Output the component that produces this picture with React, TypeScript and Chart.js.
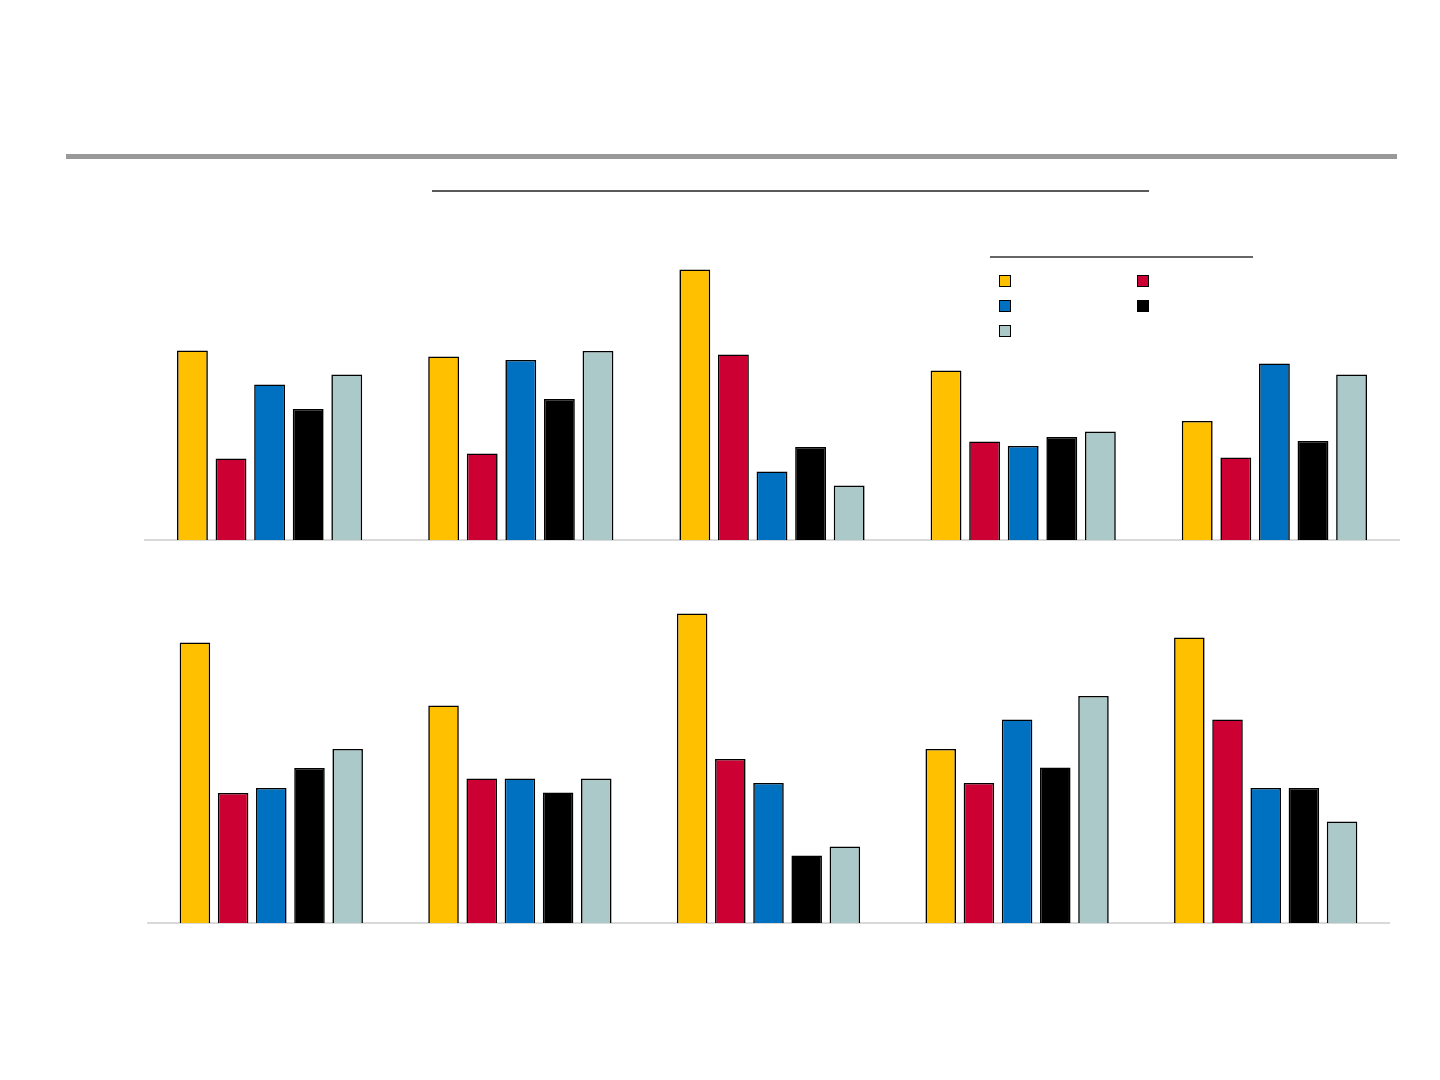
import { Chart, registerables } from 'chart.js';
import { useRef, useEffect } from 'react';

Chart.register(...registerables);

// no visible text in the reference: categories and series names are blank
const categories = ['1', '2', '3', '4', '5'];
const seriesNames = ['', '', '', '', ''];
const seriesColors = ['#FFC000', '#CC0033', '#0070C0', '#000000', '#ABC9C8'];

// upper panel
const topYellow = [37.9, 36.7, 54.1, 33.9, 23.8];
const topRed = [16.3, 17.3, 37.1, 19.7, 16.5];
const topBlue = [31.1, 36.0, 13.7, 18.8, 35.3];
const topBlack = [26.2, 28.2, 18.6, 20.6, 19.8];
const topTeal = [33.1, 37.8, 10.9, 21.7, 33.1];

// lower panel
const bottomYellow = [56.1, 43.5, 61.9, 34.8, 57.1];
const bottomRed = [26.0, 28.9, 32.8, 28.0, 40.7];
const bottomBlue = [27.0, 28.9, 28.0, 40.7, 27.0];
const bottomBlack = [31.0, 26.1, 13.5, 31.1, 27.0];
const bottomTeal = [34.8, 28.9, 15.3, 45.4, 20.3];

interface BarPanelProps {
	series: number[][];
	yMax: number;
	left: number;
	top: number;
	width: number;
	height: number;
}

const BarPanel = ({ series, yMax, left, top, width, height }: BarPanelProps) => {
	const chartRef = useRef<HTMLCanvasElement>(null);

	useEffect(() => {
		const ctx = chartRef.current.getContext('2d');

		const chartInstance = new Chart(ctx, {
			type: 'bar',
			data: {
				labels: categories,
				datasets: series.map((values, i) => ({
					label: seriesNames[i],
					data: values,
					backgroundColor: seriesColors[i],
					borderColor: '#000000',
					borderWidth: 1.6,
					categoryPercentage: 0.768,
					barPercentage: 0.8,
				})),
			},
			options: {
				animation: false,
				responsive: true,
				maintainAspectRatio: false,
				layout: {
					padding: { top: 0, bottom: 2, left: 0, right: 0 },
				},
				plugins: {
					legend: { display: false },
					tooltip: { enabled: false },
				},
				scales: {
					x: {
						grid: { display: false },
						ticks: { display: false },
						border: { display: true, color: '#D9D9D9', width: 2 },
					},
					y: {
						display: false,
						min: 0,
						max: yMax,
					},
				},
			},
		});

		return () => {
			chartInstance.destroy();
		};
	}, [series, yMax]);

	return (
		<div style={{ position: 'absolute', left, top, width, height }}>
			<canvas ref={chartRef} />
		</div>
	);
};

const Legend = () => {
	// two columns, filled row by row like the original slide legend
	return (
		<div style={{ position: 'absolute', left: 990, top: 256, width: 263 }}>
			<div style={{ height: 2, background: '#666666' }} />
			<div
				style={{
					display: 'grid',
					gridTemplateColumns: '138px 138px',
					rowGap: 13,
					marginTop: 17,
					paddingLeft: 9,
				}}
			>
				{seriesColors.map((c, i) => (
					<div
						key={i}
						title={seriesNames[i]}
						style={{
							width: 10,
							height: 10,
							background: c,
							border: '1.5px solid #000000',
						}}
					/>
				))}
			</div>
		</div>
	);
};

export default function App() {
	return (
		<div
			style={{
				position: 'absolute',
				left: 0,
				top: 0,
				width: 1440,
				height: 1080,
				background: '#FFFFFF',
				fontFamily: 'Arial, "Liberation Sans", sans-serif',
				overflow: 'hidden',
			}}
		>
			<div style={{ position: 'absolute', left: 66, top: 154, width: 1331, height: 5, background: '#999999' }} />
			<div style={{ position: 'absolute', left: 432, top: 190, width: 717, height: 2, background: '#595959' }} />
			<Legend />
			<BarPanel
				series={[topYellow, topRed, topBlue, topBlack, topTeal]}
				yMax={60}
				left={144}
				top={240}
				width={1256}
				height={310}
			/>
			<BarPanel
				series={[bottomYellow, bottomRed, bottomBlue, bottomBlack, bottomTeal]}
				yMax={65}
				left={147}
				top={598}
				width={1243}
				height={335}
			/>
		</div>
	);
}
